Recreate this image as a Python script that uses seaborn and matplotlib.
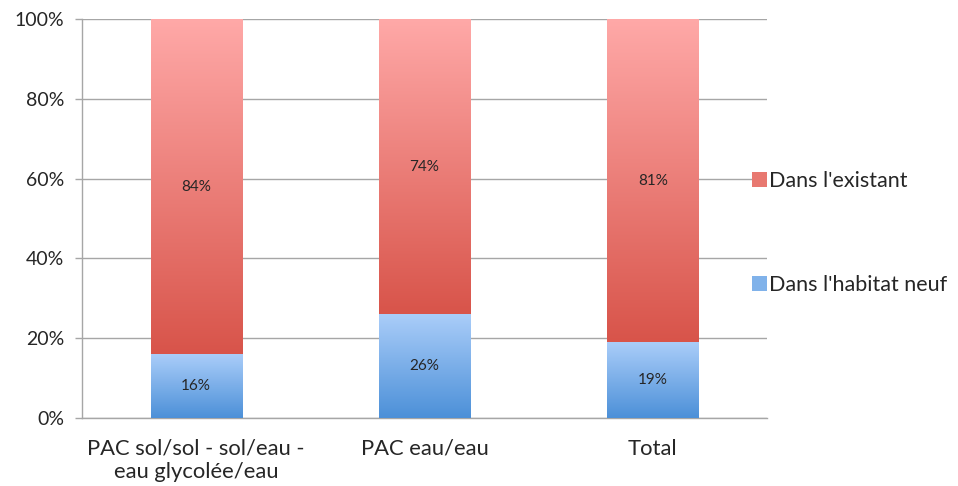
import numpy as np
import pandas as pd
import matplotlib
matplotlib.use("Agg")
import matplotlib.pyplot as plt
import matplotlib.colors as mcolors
from matplotlib.patches import Patch
import seaborn as sns

categories = ["PAC sol/sol - sol/eau -\neau glycolée/eau", "PAC eau/eau", "Total"]
neuf = [16, 26, 19]
existant = [84, 74, 81]
series_names = ["Dans l'habitat neuf", "Dans l'existant"]

df = pd.DataFrame({"cat": categories, "neuf": neuf, "existant": existant})
df["total"] = df["neuf"] + df["existant"]

sns.set_style("white")
plt.rcParams["font.family"] = ["Lato", "DejaVu Sans"]

fig = plt.figure(figsize=(9.58, 4.86), dpi=100)
ax = fig.add_axes([0.0856, 0.14, 0.715, 0.821])

# stacked: total first, then the bottom part over it
sns.barplot(data=df, x="cat", y="total", color="#e06058", width=0.40, ax=ax, zorder=2)
sns.barplot(data=df, x="cat", y="neuf", color="#7aaee8", width=0.40, ax=ax, zorder=3)

red_cmap = mcolors.LinearSegmentedColormap.from_list("r", ["#d8544a", "#ffa9a8"])
blue_cmap = mcolors.LinearSegmentedColormap.from_list("b", ["#4c90d8", "#aacdf9"])
grad = np.linspace(0, 1, 256).reshape(-1, 1)

n = len(categories)
patches = ax.patches
for i, p in enumerate(patches):
    x0, w = p.get_x(), p.get_width()
    if i < n:
        # red part starts where blue ends
        y0, y1 = neuf[i], neuf[i] + existant[i]
        cmap = red_cmap
    else:
        y0, y1 = 0, neuf[i - n]
        cmap = blue_cmap
    ax.imshow(grad, extent=[x0, x0 + w, y0, y1], origin="lower", aspect="auto",
              cmap=cmap, zorder=4, interpolation="bicubic")
    p.set_visible(False)

for i in range(n):
    ax.text(i, neuf[i] / 2, f"{neuf[i]}%", ha="center", va="center", fontsize=11, zorder=6)
    ax.text(i, neuf[i] + existant[i] / 2, f"{existant[i]}%", ha="center", va="center",
            fontsize=11, zorder=6)

ax.set_xlim(-0.5, n - 0.5)
ax.set_ylim(0, 100)
ax.set_yticks(range(0, 101, 20))
ax.set_yticklabels([f"{v}%" for v in range(0, 101, 20)], fontsize=14)
ax.yaxis.grid(True, color="#a6a6a6", lw=1, zorder=0)
ax.set_axisbelow(True)
ax.set_xlabel("")
ax.set_ylabel("")
ax.set_xticks(range(n))
ax.set_xticklabels(categories, fontsize=15.8)
ax.set_xticks(np.arange(-0.5, n, 1), minor=True)
ax.tick_params(axis="x", which="major", length=0, pad=15)
ax.tick_params(axis="x", which="minor", length=5, color="#a6a6a6", width=1, direction="out")
ax.tick_params(axis="y", length=5, color="#a6a6a6", width=1, direction="out", left=True, pad=8)
for s in ["top", "right"]:
    ax.spines[s].set_visible(False)
for s in ["left", "bottom"]:
    ax.spines[s].set_color("#a6a6a6")
    ax.spines[s].set_linewidth(1)

handles = [Patch(facecolor="#e87870", edgecolor="none"),
           Patch(facecolor="#80b2ea", edgecolor="none")]
fig.legend(handles, [series_names[1], series_names[0]], loc="center left",
           bbox_to_anchor=(0.765, 0.52), frameon=False, fontsize=15.5,
           handlelength=0.7, handleheight=0.7, handletextpad=0.1, labelspacing=3.9)

fig.savefig("out.png", dpi=100)
